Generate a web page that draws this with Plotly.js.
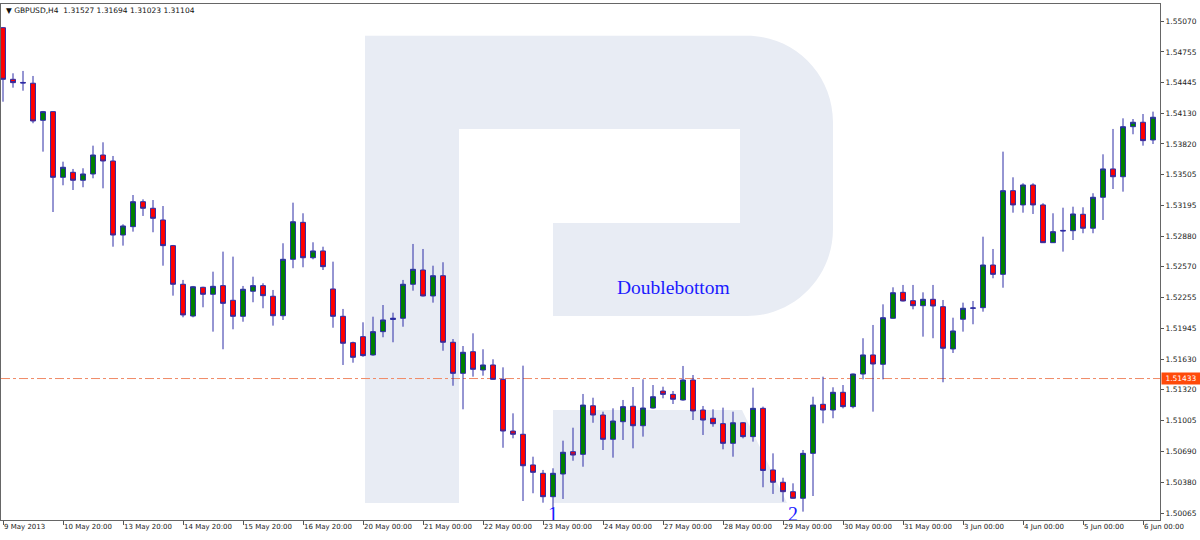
<!DOCTYPE html>
<html>
<head>
<meta charset="utf-8">
<script src="https://cdn.plot.ly/plotly-3.0.1.min.js"></script>
<style>html,body{margin:0;padding:0;background:#fff;}#chart{width:1200px;height:540px;}</style>
</head>
<body>
<div id="chart"></div>
<script>
// GBPUSD H4 candles
const open = [1.55002,1.54477,1.54445,1.54437,1.54060,1.54148,1.53480,1.53531,1.53450,1.53514,
1.53707,1.53646,1.52893,1.52978,1.53232,1.53165,1.53046,1.52785,1.52392,1.52069,
1.52361,1.52290,1.52378,1.52229,1.52066,1.52321,1.52378,1.52270,1.52072,1.52646,
1.53022,1.52662,1.52731,1.52344,1.52066,1.51798,1.51859,1.51673,1.51910,1.52034,
1.52046,1.52392,1.52537,1.52273,1.52479,1.51802,1.51486,1.51706,1.51520,1.51571,
1.51425,1.50899,1.50866,1.50554,1.50469,1.50231,1.50462,1.50689,1.50662,1.51156,
1.51062,1.50815,1.50994,1.51151,1.50953,1.51133,1.51306,1.51272,1.51215,1.51418,
1.51113,1.51029,1.50974,1.50774,1.50983,1.50842,1.51130,1.50503,1.50378,1.50282,
1.50215,1.50672,1.51171,1.51113,1.51293,1.51147,1.51479,1.51673,1.51578,1.52046,
1.52310,1.52225,1.52174,1.52239,1.52164,1.51734,1.52036,1.52148,1.52154,1.52588,
1.52493,1.53344,1.53199,1.53402,1.53199,1.52815,1.52940,1.52937,1.53104,1.52962,
1.53277,1.53565,1.53486,1.53995,1.54040,1.53860];
const high = [1.55009,1.54538,1.54562,1.54511,1.54155,1.54150,1.53639,1.53565,1.53572,1.53802,
1.53836,1.53697,1.53002,1.53300,1.53256,1.53249,1.53188,1.52792,1.52436,1.52375,
1.52367,1.52520,1.52724,1.52673,1.52375,1.52469,1.52402,1.52334,1.52809,1.53222,
1.53114,1.52819,1.52774,1.52622,1.52141,1.51808,1.52005,1.52062,1.52181,1.52103,
1.52436,1.52802,1.52751,1.52581,1.52616,1.51835,1.51764,1.51893,1.51731,1.51629,
1.51547,1.51079,1.51564,1.50638,1.50503,1.50520,1.50801,1.50933,1.51276,1.51238,
1.51096,1.51130,1.51215,1.51347,1.51425,1.51367,1.51350,1.51306,1.51561,1.51469,
1.51154,1.51120,1.51137,1.51096,1.50990,1.51340,1.51147,1.50672,1.50424,1.50367,
1.50706,1.51248,1.51452,1.51344,1.51367,1.51484,1.51843,1.51978,1.52188,1.52361,
1.52385,1.52385,1.52310,1.52385,1.52232,1.52052,1.52205,1.52222,1.52876,1.52751,
1.53741,1.53480,1.53419,1.53419,1.53216,1.53114,1.53171,1.53181,1.53175,1.53318,
1.53714,1.53972,1.54080,1.54073,1.54124,1.54148];
const low = [1.54249,1.54392,1.54361,1.54030,1.53741,1.53127,1.53399,1.53351,1.53379,1.53470,
1.53368,1.52774,1.52785,1.52927,1.53087,1.52921,1.52581,1.52276,1.52056,1.52056,
1.52158,1.51910,1.51731,1.51934,1.52011,1.52209,1.52148,1.51971,1.52029,1.52555,
1.52565,1.52646,1.52537,1.51950,1.51571,1.51594,1.51655,1.51665,1.51853,1.51802,
1.51960,1.52327,1.52268,1.52205,1.51716,1.51360,1.51120,1.51452,1.51462,1.51420,
1.50729,1.50825,1.50187,1.50266,1.50170,1.50113,1.50208,1.50597,1.50536,1.50983,
1.50706,1.50628,1.50808,1.50723,1.50842,1.51128,1.51232,1.51174,1.51208,1.51011,
1.50859,1.50943,1.50713,1.50638,1.50825,1.50791,1.50327,1.50259,1.50180,1.50210,
1.50079,1.50238,1.50978,1.51029,1.51130,1.51130,1.51425,1.51096,1.51425,1.52041,
1.52217,1.52137,1.51859,1.51843,1.51395,1.51693,1.51910,1.51985,1.52113,1.52453,
1.52357,1.53120,1.53120,1.53107,1.52812,1.52812,1.52724,1.52842,1.52911,1.52911,
1.53046,1.53361,1.53334,1.53918,1.53802,1.53819];
const close = [1.54477,1.54443,1.54440,1.54053,1.54148,1.53480,1.53582,1.53450,1.53514,1.53707,
1.53646,1.52893,1.52985,1.53232,1.53165,1.53063,1.52785,1.52392,1.52080,1.52367,
1.52290,1.52371,1.52198,1.52066,1.52341,1.52378,1.52276,1.52072,1.52646,1.53028,
1.52662,1.52731,1.52571,1.52066,1.51792,1.51649,1.51666,1.51910,1.52029,1.52046,
1.52392,1.52544,1.52273,1.52479,1.51802,1.51486,1.51700,1.51527,1.51571,1.51425,
1.50899,1.50866,1.50546,1.50479,1.50231,1.50469,1.50683,1.50655,1.51163,1.51062,
1.50815,1.51001,1.51147,1.50953,1.51133,1.51248,1.51272,1.51222,1.51418,1.51103,
1.51011,1.50974,1.50774,1.50983,1.50842,1.51130,1.50498,1.50378,1.50282,1.50215,
1.50672,1.51163,1.51113,1.51293,1.51147,1.51479,1.51673,1.51581,1.52052,1.52306,
1.52222,1.52174,1.52239,1.52171,1.51741,1.51917,1.52148,1.52151,1.52588,1.52493,
1.53344,1.53199,1.53402,1.53199,1.52815,1.52927,1.52935,1.53107,1.52962,1.53277,
1.53565,1.53486,1.53995,1.54040,1.53853,1.54091];

const xTickIdx = [0,6,12,18,24,30,36,42,48,54,60,66,72,78,84,90,96,102,108,114];
const xTickLabels = ["9 May 2013","10 May 20:00","13 May 20:00","14 May 20:00","15 May 20:00","16 May 20:00",
"20 May 00:00","21 May 00:00","22 May 00:00","23 May 00:00","24 May 00:00","27 May 00:00","28 May 00:00",
"29 May 00:00","30 May 00:00","31 May 00:00","3 Jun 00:00","4 Jun 00:00","5 Jun 00:00","6 Jun 00:00"];
const yTickVals = [1.55070,1.54755,1.54445,1.54130,1.53820,1.53505,1.53195,1.52880,1.52570,1.52255,
1.51945,1.51630,1.51320,1.51005,1.50690,1.50380,1.50065];
const currentPrice = 1.51433;
const headerText = "\u25BC GBPUSD,H4  1.31527 1.31694 1.31023 1.31104";
const patternLabel = {text: "Doublebottom", idx: 67, price: 1.52364};
const bottomMarks = {text: ["1","2"], idx: [55,79], price: [1.50030,1.50030]};

const idx = open.map((_, i) => i);

const candle = {
  type: 'candlestick', x: idx, open: open, high: high, low: low, close: close,
  increasing: {fillcolor: '#008000', line: {color: '#2c2ca6', width: 1}},
  decreasing: {fillcolor: '#ff0000', line: {color: '#2c2ca6', width: 1}},
  whiskerwidth: 0, hoverinfo: 'skip'
};
const marks = {
  type: 'scatter', mode: 'text', x: bottomMarks.idx, y: bottomMarks.price, text: bottomMarks.text,
  textposition: 'middle center', cliponaxis: true, hoverinfo: 'skip',
  textfont: {family: 'Liberation Serif, serif', size: 20, color: '#1a1aff'}
};

// RoboForex-style watermark drawn in paper coordinates
const logoColor = '#e8ecf4';
const logoBowl = 'M0.31406,0.03295 L0.31406,0.93857 L0.64366,0.93857 C0.68464,0.93857 0.71786,0.86357 0.71786,0.77132 ' +
  'L0.71786,0.56395 C0.71786,0.47093 0.68464,0.39535 0.64366,0.39535 L0.47627,0.39535 L0.47627,0.57558 ' +
  'L0.63762,0.57558 L0.63762,0.75775 L0.39517,0.75775 L0.39517,0.03295 Z';
const logoLeg = 'M0.47627,0.21318 L0.63934,0.21318 L0.67817,0.03295 L0.47627,0.03295 Z';

const xTickFont = {family: 'DejaVu Sans, sans-serif', size: 7, color: '#222'};
const yTickFont = {family: 'DejaVu Sans, sans-serif', size: 7.5, color: '#222'};

const layout = {
  width: 1200, height: 540,
  margin: {l: 1, r: 40, t: 4, b: 20, pad: 0},
  paper_bgcolor: '#ffffff', plot_bgcolor: '#ffffff',
  showlegend: false, hovermode: false,
  xaxis: {
    type: 'linear', range: [-0.2, 115.7], rangeslider: {visible: false},
    tickmode: 'array', tickvals: xTickIdx, ticktext: xTickLabels, tickangle: 0,
    ticks: 'outside', ticklen: 4, tickcolor: '#555', ticklabelposition: 'outside right',
    tickfont: xTickFont, showgrid: false, zeroline: false,
    showline: true, mirror: true, linecolor: '#666', linewidth: 1
  },
  yaxis: {
    side: 'right', range: [1.49994, 1.55243],
    tickmode: 'array', tickvals: yTickVals, ticktext: yTickVals.map(v => v.toFixed(5)),
    ticks: 'outside', ticklen: 3, tickcolor: '#555', tickfont: yTickFont,
    showgrid: false, zeroline: false, showline: true, mirror: true, linecolor: '#666', linewidth: 1
  },
  shapes: [
    {type: 'path', xref: 'paper', yref: 'paper', path: logoBowl, fillcolor: logoColor, line: {width: 0}, layer: 'below'},
    {type: 'path', xref: 'paper', yref: 'paper', path: logoLeg, fillcolor: logoColor, line: {width: 0}, layer: 'below'},
    {type: 'line', xref: 'paper', x0: 0, x1: 1, yref: 'y', y0: currentPrice, y1: currentPrice,
     line: {color: '#f08a66', width: 1, dash: 'dashdot'}, layer: 'below'}
  ],
  annotations: [
    {xref: 'paper', yref: 'paper', x: 0.003, y: 1, xanchor: 'left', yanchor: 'top', yshift: 0,
     text: headerText, showarrow: false, font: {family: 'DejaVu Sans, sans-serif', size: 7.5, color: '#111'}},
    {xref: 'x', yref: 'y', x: patternLabel.idx, y: patternLabel.price, text: patternLabel.text,
     showarrow: false, font: {family: 'Liberation Serif, serif', size: 19.5, color: '#1a1aff'}},
    {xref: 'paper', yref: 'y', x: 1, y: currentPrice, xanchor: 'left', yanchor: 'middle', xshift: 1,
     text: currentPrice.toFixed(5), showarrow: false, bgcolor: '#ff4a0a', borderpad: 1,
     width: 36, font: {family: 'DejaVu Sans, sans-serif', size: 7.5, color: '#ffffff'}}
  ]
};

Plotly.newPlot('chart', [candle, marks], layout, {displayModeBar: false, staticPlot: true});
</script>
</body>
</html>
